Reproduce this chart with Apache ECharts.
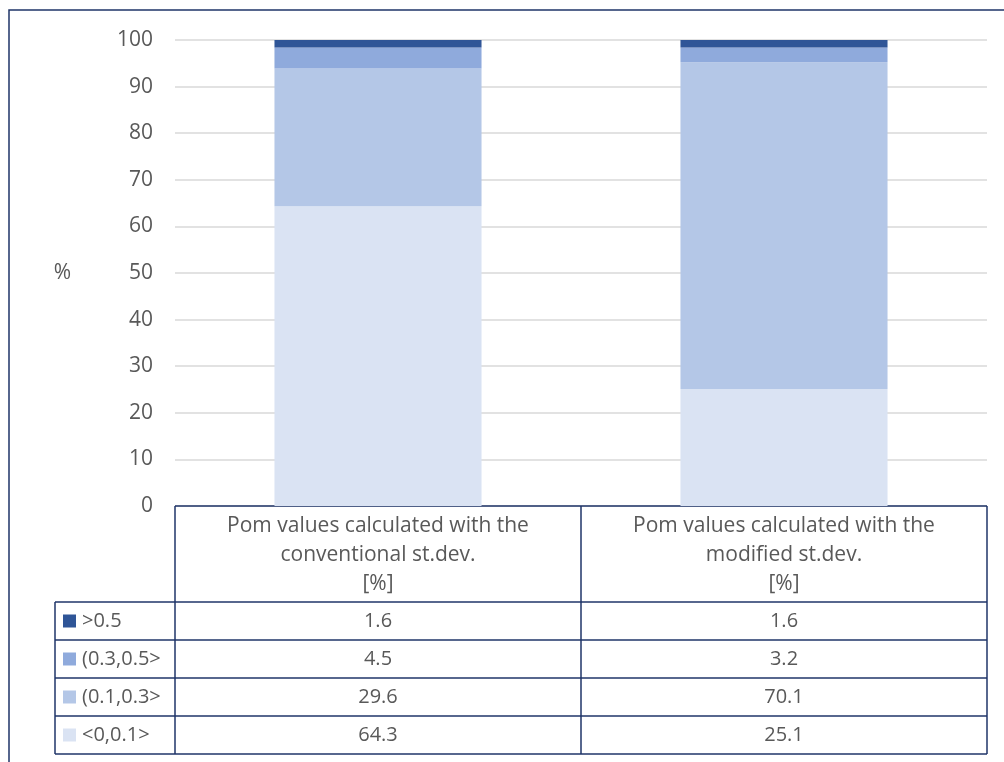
<!DOCTYPE html>
<html>
<head>
<meta charset="utf-8">
<script src="https://cdn.jsdelivr.net/npm/echarts@6/dist/echarts.min.js"></script>
<style>
  html, body { margin: 0; padding: 0; background: #fff; }
  #chart { width: 1004px; height: 762px; }
</style>
</head>
<body>
<div id="chart"></div>
<script>
// categories (table column headers)
const categories = [
  'Pom values calculated with the\nconventional st.dev.\n[%]',
  'Pom values calculated with the\nmodified st.dev.\n[%]'
]
// series, bottom of stack first
const seriesNames = ['<0,0.1>', '(0.1,0.3>', '(0.3,0.5>', '>0.5']
const seriesColors = ['#dae3f3', '#b4c7e7', '#8faadc', '#2f5597']
const lowValues = [64.3, 25.1]   // <0,0.1>
const midValues = [29.6, 70.1]   // (0.1,0.3>
const highValues = [4.5, 3.2]    // (0.3,0.5>
const topValues = [1.6, 1.6]     // >0.5
const yTicks = { min: 0, max: 100, interval: 10 }

const seriesData = [lowValues, midValues, highValues, topValues]
const font = '"Open Sans", Lato, sans-serif'
const textColor = '#595959'
const lineColor = '#1f3468'

const chart = echarts.init(document.getElementById('chart'))

const option = {
  animation: false,
  grid: { left: 175, right: 17, top: 40, bottom: 256 },
  xAxis: {
    type: 'category',
    data: categories,
    axisLine: { show: false },
    axisTick: { show: false },
    axisLabel: { show: false }
  },
  yAxis: {
    type: 'value',
    min: yTicks.min,
    max: yTicks.max,
    interval: yTicks.interval,
    name: '%',
    nameLocation: 'middle',
    nameRotate: 0,
    nameGap: 104,
    nameTextStyle: { color: textColor, fontSize: 21, fontFamily: font },
    axisLabel: { color: textColor, fontSize: 21, fontFamily: font, margin: 22 },
    splitLine: { lineStyle: { color: '#d9d9d9', width: 1.5 } }
  },
  series: seriesNames.map((name, i) => ({
    name: name,
    type: 'bar',
    stack: 'total',
    barWidth: '51%',
    data: seriesData[i],
    itemStyle: { color: seriesColors[i] }
  }))
}
chart.setOption(option)

// 表格部分，列宽跟随类目轴
function buildTable() {
  const band = chart.convertToPixel({ xAxisIndex: 0 }, 1) - chart.convertToPixel({ xAxisIndex: 0 }, 0)
  const centers = categories.map((c, i) => chart.convertToPixel({ xAxisIndex: 0 }, i))
  const left = centers[0] - band / 2
  const right = centers[centers.length - 1] + band / 2
  const top = chart.convertToPixel({ yAxisIndex: 0 }, 0)
  const headerBottom = 602
  const rowH = 38
  const legendLeft = 55
  const rows = seriesNames.slice().reverse()
  const rowData = seriesData.slice().reverse()
  const rowColors = seriesColors.slice().reverse()
  const bottom = headerBottom + rowH * rows.length
  const ls = { stroke: lineColor, lineWidth: 1.5 }
  const els = []

  // outer frame
  els.push({ type: 'polyline', shape: { points: [[9, 770], [9, 10], [1010, 10]] }, style: { stroke: '#1f3468', lineWidth: 1.5, fill: null } })

  els.push({ type: 'line', shape: { x1: left, y1: top, x2: right, y2: top }, style: ls })
  for (let r = 0; r <= rows.length; r++) {
    const y = headerBottom + r * rowH
    els.push({ type: 'line', shape: { x1: legendLeft, y1: y, x2: right, y2: y }, style: ls })
  }
  els.push({ type: 'line', shape: { x1: legendLeft, y1: headerBottom, x2: legendLeft, y2: bottom }, style: ls })
  for (let c = 0; c <= categories.length; c++) {
    const x = left + c * band
    els.push({ type: 'line', shape: { x1: x, y1: top, x2: x, y2: bottom }, style: ls })
  }
  // header text
  categories.forEach((c, i) => {
    els.push({
      type: 'text',
      style: {
        text: c, x: centers[i], y: (top + headerBottom) / 2 + 1,
        align: 'center', verticalAlign: 'middle',
        fill: textColor, fontSize: 21, fontFamily: font, lineHeight: 29
      }
    })
  })
  // rows
  rows.forEach((name, r) => {
    const cy = headerBottom + r * rowH + rowH / 2
    els.push({ type: 'rect', shape: { x: 63, y: cy - 6.5, width: 13, height: 13 }, style: { fill: rowColors[r] } })
    els.push({
      type: 'text',
      style: { text: name, x: 82, y: cy, align: 'left', verticalAlign: 'middle', fill: textColor, fontSize: 20, fontFamily: font }
    })
    rowData[r].forEach((v, i) => {
      els.push({
        type: 'text',
        style: { text: v.toFixed(1), x: centers[i], y: cy, align: 'center', verticalAlign: 'middle', fill: textColor, fontSize: 20, fontFamily: font }
      })
    })
  })
  chart.setOption({ graphic: { elements: els } })
}
buildTable()
</script>
</body>
</html>
